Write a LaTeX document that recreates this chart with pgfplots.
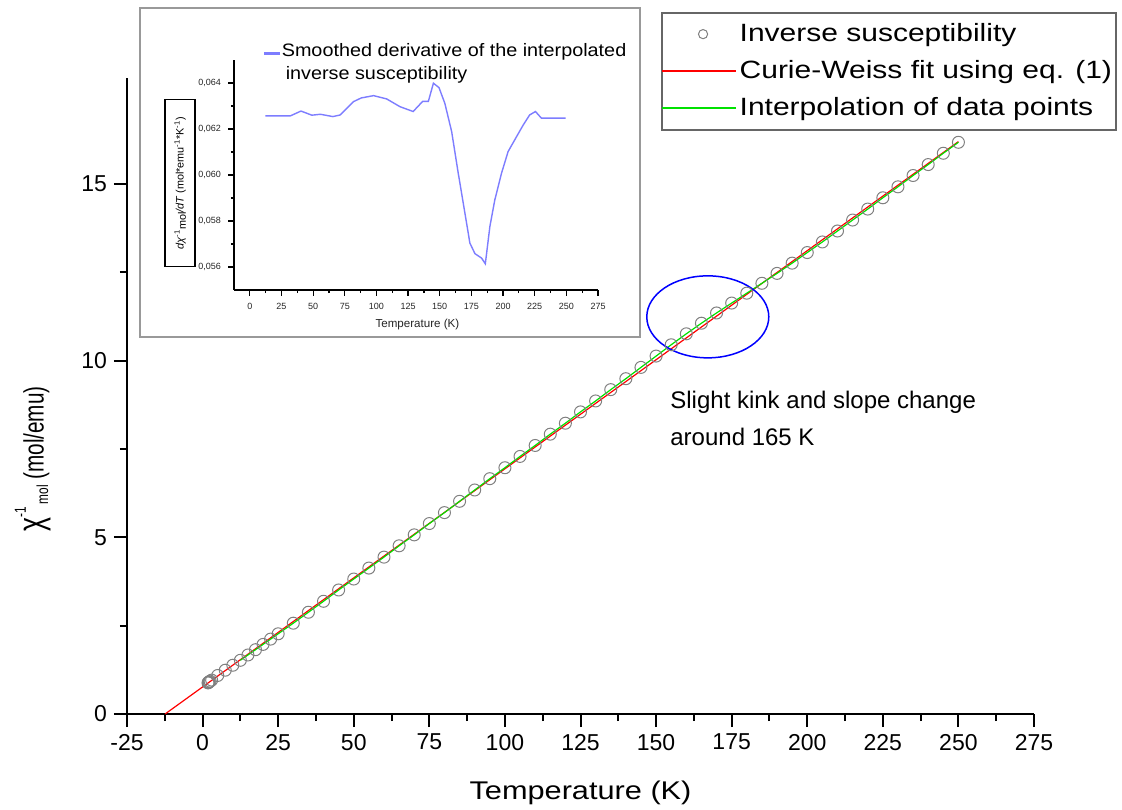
\documentclass[border=0pt]{standalone}
\usepackage{fontspec}
\setmainfont{Liberation Sans}
\newfontfamily\wideA{Liberation Sans}[FakeStretch=1.2]
\newfontfamily\wideB{Liberation Sans}[FakeStretch=1.1]
\newfontfamily\narrowA{Liberation Sans}[FakeStretch=0.74]
\usepackage{pgfplots}
\pgfplotsset{compat=1.18}
\definecolor{lgreen}{RGB}{0,225,0}
\definecolor{lred}{RGB}{255,0,0}
\definecolor{dblue}{RGB}{125,125,255}
\begin{document}
\begin{tikzpicture}
\useasboundingbox (0,0) rectangle (561pt,404.5pt);
\begin{axis}[
  at={(63.5pt,47.5pt)}, anchor=south west,
  scale only axis, width=453.5pt, height=318pt,
  xmin=-25, xmax=275, ymin=0, ymax=18,
  axis x line*=bottom, axis y line*=left,
  axis line style={line width=1pt,-,black},
  tick align=outside,
  major tick length=6.5pt, minor tick length=3.5pt,
  every tick/.style={line width=1pt, black},
  xtick={-25,0,...,275}, ytick={0,5,10,15},
  minor x tick num=1, minor y tick num=1,
  /pgf/number format/assume math mode=true,
  ticklabel style={font=\fontsize{11.5}{13}\selectfont},
  xlabel={Temperature (K)},
  xlabel style={at={(axis description cs:0.5,-0.135)}, anchor=base, font=\wideA\fontsize{12.8}{15}\selectfont},
  ylabel={{\fontsize{18}{18}\selectfont χ}\raisebox{1.2ex}{\fontsize{8}{9}\selectfont -1}\raisebox{-0.3ex}{\fontsize{8}{9}\selectfont\,mol}\ (mol/emu)},
  ylabel style={at={(axis description cs:-0.1036,0.401)}, anchor=center, font=\narrowA\fontsize{14}{16}\selectfont},
  clip=false,
  legend style={at={(axis description cs:1.0915,1.1038)}, anchor=north east,
    draw=black!60, line width=1pt, fill=white,
    font=\wideA\fontsize{12.5}{15}\selectfont,
    inner xsep=0pt, inner ysep=3.3pt,
    nodes={inner xsep=2pt, inner ysep=2pt}, row sep=4pt},
  legend cell align=left,
]
\addplot[only marks, mark=o, mark size=3pt, color=gray, mark options={line width=0.5pt},
  legend image code/.code={\path[draw=none] (0pt,0pt) -- (36pt,0pt); \color{gray}\draw[line width=0.5pt] (20pt,0pt) circle (2.3pt);}]
 coordinates {
(1.8,0.88) (1.9,0.89) (2.0,0.90) (2.2,0.91) (2.5,0.93) (3,0.96) (5,1.09) (7.5,1.24)
(10,1.38) (12.5,1.52) (15,1.67) (17.5,1.82) (20,1.97) (22.5,2.12) (25,2.27)
(30,2.57) (35,2.88) (40,3.19) (45,3.51) (50,3.82) (55,4.13) (60,4.44) (65,4.76)
(70,5.07) (75,5.39) (80,5.70) (85,6.02) (90,6.34) (95,6.66) (100,6.97) (105,7.29)
(110,7.60) (115,7.92) (120,8.23) (125,8.55) (130,8.86) (135,9.18) (140,9.49)
(145,9.81) (150,10.13) (155,10.45) (160,10.76) (165,11.06) (170,11.35) (175,11.63)
(180,11.91) (185,12.19) (190,12.47) (195,12.76) (200,13.06) (205,13.36) (210,13.67)
(215,13.98) (220,14.29) (225,14.61) (230,14.92) (235,15.24) (240,15.55) (245,15.87)
(250,16.18)};
\addlegendentry{Inverse susceptibility}
\addplot[lred, line width=0.6pt, no marks,
  legend image code/.code={\color{lred}\fill (0pt,-0.22pt) rectangle (36pt,0.22pt);}]
  coordinates {(-12.4,0) (250,16.2)};
\addlegendentry{Curie-Weiss fit using eq. (1)}
\addplot[lgreen, line width=0.6pt, no marks,
  legend image code/.code={\color{lgreen}\fill (0pt,-0.22pt) rectangle (36pt,0.22pt);}]
  coordinates {
(12.5,1.52) (15,1.67) (17.5,1.82) (20,1.97) (22.5,2.12) (25,2.27)
(30,2.57) (35,2.88) (40,3.19) (45,3.51) (50,3.82) (55,4.13) (60,4.44) (65,4.76)
(70,5.07) (75,5.39) (80,5.70) (85,6.02) (90,6.34) (95,6.66) (100,6.97) (105,7.29)
(110,7.60) (115,7.92) (120,8.23) (125,8.55) (130,8.86) (135,9.18) (140,9.49)
(145,9.81) (150,10.13) (155,10.45) (160,10.76) (165,11.06) (170,11.35) (175,11.63)
(180,11.91) (185,12.19) (190,12.47) (195,12.76) (200,13.06) (205,13.36) (210,13.67)
(215,13.98) (220,14.29) (225,14.61) (230,14.92) (235,15.24) (240,15.55) (245,15.87)
(250,16.18)};
\addlegendentry{Interpolation of data points}
\draw[blue, line width=0.75pt] (axis cs:167.1,11.24) ellipse [x radius=30.5pt, y radius=20.5pt];
\node[anchor=base west, font=\fontsize{12}{14}\selectfont, inner sep=0pt] at (axis cs:154.6,8.64) {Slight kink and slope change};
\node[anchor=base west, font=\fontsize{12}{14}\selectfont, inner sep=0pt] at (axis cs:154.6,7.60) {around 165 K};
\end{axis}
\draw[black!40, line width=0.75pt, fill=white] (70pt,236pt) rectangle (320pt,400.5pt);
\begin{axis}[
  at={(117pt,259.5pt)}, anchor=south west,
  scale only axis, width=182pt, height=115pt,
  xmin=-12.5, xmax=275, ymin=0.055, ymax=0.065,
  axis x line*=bottom, axis y line*=left,
  axis line style={line width=0.8pt,-,black},
  tick align=outside, major tick length=3pt, minor tick length=1.6pt,
  every tick/.style={line width=0.6pt, black},
  xtick={0,25,...,275}, ytick={0.056,0.058,0.060,0.062,0.064},
  minor x tick num=1, minor y tick num=1,
  scaled y ticks=false,
  yticklabel style={/pgf/number format/.cd, fixed, fixed zerofill, precision=3, use comma},
  /pgf/number format/assume math mode=true,
  ticklabel style={font=\fontsize{4.5}{5}\selectfont, text=black!85},
  xlabel={Temperature (K)},
  xlabel style={at={(axis description cs:0.504,-0.161)}, anchor=base, font=\fontsize{5.8}{7}\selectfont, text=black!85},
  ylabel={{\itshape dχ}\textsuperscript{-1}\raisebox{-0.4ex}{mol}{\itshape /dT} (mol*emu\textsuperscript{-1}*K\textsuperscript{-1})},
  ylabel style={at={(axis description cs:-0.148,0.465)}, anchor=center, draw=black, line width=0.8pt,
    minimum width=83.5pt, minimum height=15pt, inner sep=1pt, font=\fontsize{5.4}{6}\selectfont},
  clip=false,
  legend style={at={(axis description cs:0.0824,1.087)}, anchor=north west, draw=none, fill=none,
    inner sep=0pt, nodes={inner xsep=1pt, inner ysep=0pt},
    font=\wideB\fontsize{9}{11.5}\selectfont, cells={anchor=base west}},
  legend image code/.code={\color{dblue}\fill (0pt,0.15em-0.22pt) rectangle (7pt,0.15em+0.22pt);},
]
\addplot[dblue, line width=0.7pt, no marks] coordinates {
(12.3,0.06257) (32,0.06257) (40.4,0.06278) (49,0.0626) (55.7,0.06264) (65.6,0.06254)
(71.4,0.06261) (81.9,0.06319) (88,0.06335) (97.7,0.06345) (108,0.06331) (118.6,0.06297)
(129,0.06276) (136.5,0.0632) (141,0.0632) (145,0.06399) (149.4,0.0638) (154,0.06312)
(159.4,0.06189) (164.6,0.06008) (169.9,0.05834) (173.8,0.05704) (177.8,0.05658)
(183,0.05639) (186,0.05614) (189.6,0.05776) (193.5,0.05892) (198.8,0.06008)
(204,0.06102) (210.7,0.06167) (216,0.06218) (221,0.06261) (225.6,0.06276)
(230.3,0.06247) (249.5,0.06247)};
\addlegendentry{\begin{tabular}[t]{@{}l@{}}Smoothed derivative of the interpolated\\\hspace{2pt}inverse susceptibility\end{tabular}}
\end{axis}
\end{tikzpicture}
\end{document}
